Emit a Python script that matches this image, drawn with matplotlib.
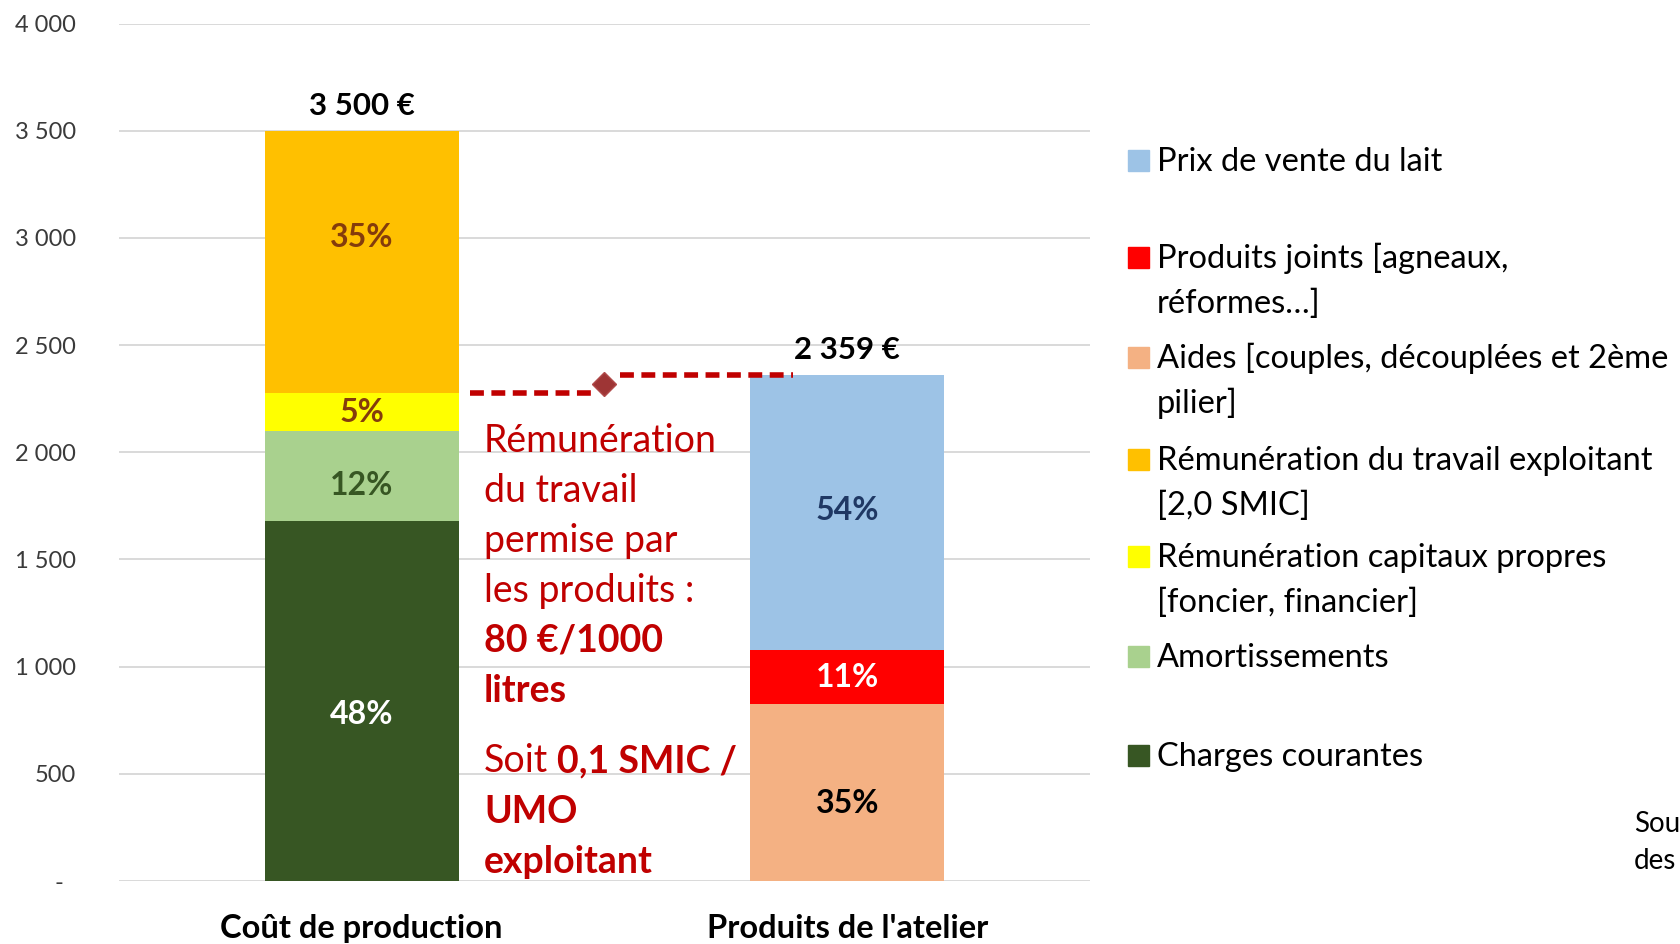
import matplotlib
matplotlib.use("Agg")
import matplotlib.pyplot as plt
from matplotlib.patches import Rectangle
from matplotlib.ticker import FixedLocator, FuncFormatter

W, H, DPI = 1681, 944, 100
FONT = "Lato"
plt.rcParams["font.family"] = [FONT, "DejaVu Sans"]

# ---------------- data ----------------
categories = ["Coût de production", "Produits de l'atelier"]

charges_courantes = [1680, 0]
amortissements = [420, 0]
remun_capitaux = [175, 0]
remun_travail = [1225, 0]
aides = [0, 826]
produits_joints = [0, 250]
prix_lait = [0, 1283]

series_labels = [
    "Charges courantes",
    "Amortissements",
    "Rémunération capitaux propres\n[foncier, financier]",
    "Rémunération du travail exploitant\n[2,0 SMIC]",
    "Aides [couples, découplées et 2ème\npilier]",
    "Produits joints [agneaux,\nréformes…]",
    "Prix de vente du lait",
]
series_values = [charges_courantes, amortissements, remun_capitaux, remun_travail,
                 aides, produits_joints, prix_lait]
series_colors = ["#375623", "#A9D18E", "#FFFF00", "#FFC000",
                 "#F4B183", "#FF0000", "#9DC3E6"]
label_colors = ["white", "#375623", "#843C0C", "#843C0C",
                "black", "white", "#1F3864"]
# vertical nudges of the percentage labels (data units), as placed in the original
label_nudge = [-65, -47, 0, 113, -51, 0, 9]

y_ticks = [0, 500, 1000, 1500, 2000, 2500, 3000, 3500, 4000]

annot_regular = ["Rémunération", "du travail", "permise par", "les produits :"]
annot_bold = ["80 €/1000", "litres"]
annot_soit = ("Soit", "0,1 SMIC /")
annot_bold2 = ["UMO", "exploitant"]

# ---------------- figure ----------------
fig = plt.figure(figsize=(W / DPI, H / DPI), dpi=DPI)
fig.patch.set_facecolor("white")


def fx(px):
    return px / W


def fy(py):
    return 1 - py / H


ax = fig.add_axes([fx(119), fy(881), fx(1090) - fx(119), fy(23.6) - fy(881)])
ax.set_xlim(-0.5, 1.5)
ax.set_ylim(0, 4000)
for s in ax.spines.values():
    s.set_visible(False)
ax.yaxis.set_major_locator(FixedLocator(y_ticks))
ax.yaxis.set_major_formatter(FuncFormatter(
    lambda v, p: "-  " if v == 0 else f"{int(v):,}".replace(",", " ")))
ax.tick_params(axis="y", length=0, pad=31, labelsize=17, labelcolor="#3a3a3a")
ax.grid(axis="y", color="#D9D9D9", lw=1.4)
ax.set_axisbelow(True)

xs = list(range(len(categories)))
ax.set_xticks(xs)
ax.set_xticklabels(categories, fontsize=23.5, fontweight="bold", color="black")
ax.tick_params(axis="x", length=0, pad=24)

bottoms = [0] * len(categories)
totals = [sum(v[i] for v in series_values) for i in xs]
for vals, col, lc, nudge in zip(series_values, series_colors, label_colors, label_nudge):
    ax.bar(xs, vals, bottom=bottoms, width=0.4, color=col, zorder=2)
    for i in xs:
        if vals[i] > 0:
            pct = round(100 * vals[i] / totals[i])
            ax.text(i, bottoms[i] + vals[i] / 2 + nudge, f"{pct}%", ha="center",
                    va="center", fontsize=23, fontweight="bold", color=lc, zorder=3)
    bottoms = [b + v for b, v in zip(bottoms, vals)]

for i in xs:
    ax.annotate(f"{totals[i]:,} €".replace(",", " "), (i, totals[i]),
                xytext=(0, 11.5), textcoords="offset points", ha="center",
                va="baseline", fontsize=22.5, fontweight="bold", color="black")

# remuneration gap line
cost_without_work = charges_courantes[0] + amortissements[0] + remun_capitaux[0]
prod_total = totals[1]
red = "#C00000"
ax.plot([0.222, 0.487], [cost_without_work, cost_without_work], color=red, lw=4,
        dashes=(2.5, 1.35), dash_capstyle="butt", zorder=4)
ax.plot([0.532, 0.889], [prod_total, prod_total], color=red, lw=4,
        dashes=(2.5, 1.35), dash_capstyle="butt", zorder=4)
ax.plot([0.5], [(cost_without_work + prod_total) / 2], marker="D", ms=12,
        color="#9E3535", mec="#B04A4A", zorder=5)

# annotation text
AFS = 27
x0 = fx(484)
base = 452
step = 50
lines = [(t, "normal") for t in annot_regular] + [(t, "bold") for t in annot_bold]
for k, (t, w) in enumerate(lines):
    fig.text(x0, fy(base + k * step), t, fontsize=AFS, fontweight=w, color=red,
             va="baseline", ha="left")
t_soit = fig.text(x0, fy(772), annot_soit[0], fontsize=AFS, color=red,
                  va="baseline", ha="left")
fig.canvas.draw()
ext = t_soit.get_window_extent(fig.canvas.get_renderer())
fig.text(fx(ext.x1 + 9), fy(772), annot_soit[1], fontsize=AFS, fontweight="bold",
         color=red, va="baseline", ha="left")
for k, t in enumerate(annot_bold2):
    fig.text(x0, fy(823 + k * 50), t, fontsize=AFS, fontweight="bold", color=red,
             va="baseline", ha="left")

# legend (top to bottom order)
leg_order = [6, 5, 4, 3, 2, 1, 0]
leg_base = [171, 268, 368, 470, 567, 667, 766]
for idx, b in zip(leg_order, leg_base):
    fig.patches.append(Rectangle((fx(1128), fy(b)), fx(21), 21 / H,
                                 transform=fig.transFigure, color=series_colors[idx]))
    for j, line in enumerate(series_labels[idx].split("\n")):
        fig.text(fx(1157), fy(b + j * 45), line, fontsize=23.5, color="black",
                 va="baseline", ha="left")

# truncated source note at the right edge
fig.text(fx(1634), fy(832), "Sou", fontsize=20, color="black", va="baseline")
fig.text(fx(1634), fy(869), "des", fontsize=20, color="black", va="baseline")

fig.savefig("out.png", dpi=DPI, facecolor="white")
